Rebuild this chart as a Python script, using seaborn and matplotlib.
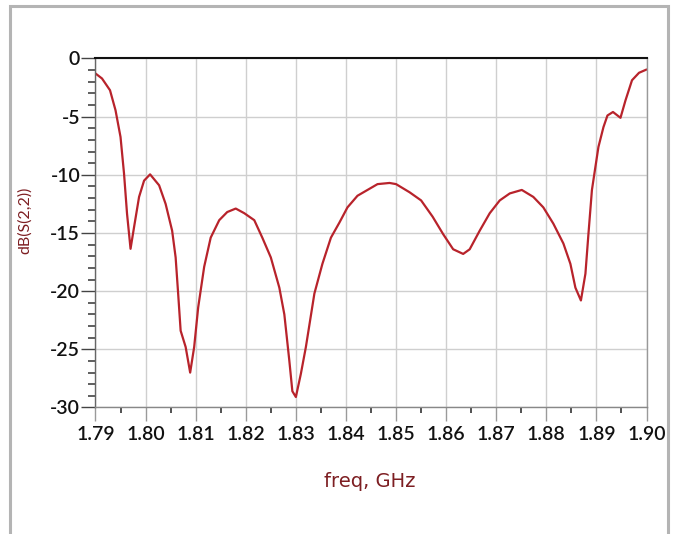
import matplotlib
matplotlib.use("Agg")
import matplotlib.pyplot as plt
from matplotlib.patches import Rectangle
from matplotlib.ticker import MultipleLocator, FormatStrFormatter
import seaborn as sns
import pandas as pd

freq_ghz = [1.7900, 1.7913, 1.7929, 1.7940, 1.7950, 1.7957, 1.7963, 1.7970, 1.7977, 1.7987,
            1.7997, 1.8009, 1.8027, 1.8040, 1.8053, 1.8060, 1.8065, 1.8070, 1.8080, 1.8089,
            1.8097, 1.8105, 1.8117, 1.8130, 1.8147, 1.8163, 1.8180, 1.8197, 1.8217, 1.8233,
            1.8250, 1.8267, 1.8277, 1.8287, 1.8293, 1.8300, 1.8310, 1.8320, 1.8337, 1.8353,
            1.8370, 1.8387, 1.8403, 1.8423, 1.8443, 1.8463, 1.8487, 1.8500, 1.8527, 1.8550,
            1.8573, 1.8594, 1.8614, 1.8634, 1.8647, 1.8667, 1.8687, 1.8707, 1.8727, 1.8751,
            1.8774, 1.8794, 1.8814, 1.8834, 1.8848, 1.8858, 1.8869, 1.8878, 1.8884, 1.8891,
            1.8898, 1.8904, 1.8914, 1.8922, 1.8933, 1.8948, 1.8958, 1.8971, 1.8985, 1.9000]
s22_db = [-1.29, -1.72, -2.73, -4.45, -6.75, -9.9, -13.35, -16.36, -14.5, -11.9,
          -10.5, -9.96, -10.9, -12.5, -14.8, -17.1, -20.2, -23.4, -24.8, -27.0,
          -24.8, -21.4, -17.9, -15.4, -13.9, -13.2, -12.9, -13.3, -13.9, -15.4,
          -17.1, -19.7, -22.0, -26.0, -28.6, -29.1, -27.1, -24.8, -20.2, -17.65,
          -15.4, -14.1, -12.8, -11.8, -11.3, -10.8, -10.7, -10.8, -11.5, -12.2,
          -13.6, -15.1, -16.4, -16.8, -16.4, -14.8, -13.3, -12.2, -11.6, -11.3,
          -11.9, -12.8, -14.2, -15.9, -17.65, -19.7, -20.8, -18.5, -15.1, -11.3,
          -9.3, -7.6, -5.9, -4.9, -4.6, -5.1, -3.6, -1.87, -1.23, -0.95]
x_ticks = [1.79, 1.80, 1.81, 1.82, 1.83, 1.84, 1.85, 1.86, 1.87, 1.88, 1.89, 1.90]
y_ticks = [0, -5, -10, -15, -20, -25, -30]
x_label = "freq, GHz"
y_label = "dB(S(2,2))"

sns.set_theme(style="white")
plt.rcParams["font.family"] = ["DejaVu Sans"]
plt.rcParams["axes.unicode_minus"] = False

fig = plt.figure(figsize=(6.82, 5.34), dpi=100)
ax = fig.add_axes([0.140, 0.2369, 0.808, 0.6536])

# outer gray frame
fig.patches.append(Rectangle((10 / 682, -0.05), (668 - 10) / 682, (534 - 6) / 534 + 0.05,
                             transform=fig.transFigure, fill=False,
                             edgecolor="#b4b4b4", linewidth=2.2, zorder=0))

df = pd.DataFrame({"freq": freq_ghz, "db": s22_db})
sns.lineplot(data=df, x="freq", y="db", ax=ax, color="#b8232b", linewidth=1.6,
             estimator=None, sort=False)

ax.set_xlim(x_ticks[0], x_ticks[-1])
ax.set_ylim(y_ticks[-1], y_ticks[0])
ax.set_xticks(x_ticks)
ax.set_yticks(y_ticks)
ax.xaxis.set_major_formatter(FormatStrFormatter("%.2f"))
ax.xaxis.set_minor_locator(MultipleLocator(0.005))
ax.yaxis.set_minor_locator(MultipleLocator(1))

ax.grid(True, which="major", color="#cfcfcf", linewidth=1.0)
ax.set_axisbelow(True)

ax.tick_params(axis="x", which="major", direction="out", length=10, width=1.0,
               color="#9a9a9a", labelsize=14, pad=3, labelcolor="#111111", bottom=True)
ax.tick_params(axis="x", which="minor", direction="out", length=4, width=1.2,
               color="#333333", bottom=True)
ax.tick_params(axis="y", which="major", direction="out", length=10, width=1.0,
               color="#444444", labelsize=14, pad=1, labelcolor="#111111", left=True)
ax.tick_params(axis="y", which="minor", direction="out", length=5, width=1.2,
               color="#444444", left=True)
for lab in ax.get_xticklabels() + ax.get_yticklabels():
    lab.set_family(["Lato", "DejaVu Sans"])
    lab.set_fontweight("semibold")

ax.spines["top"].set_color("#111111")
ax.spines["top"].set_linewidth(1.5)
ax.spines["left"].set_color("#666666")
ax.spines["left"].set_linewidth(1.0)
ax.spines["bottom"].set_color("#888888")
ax.spines["bottom"].set_linewidth(1.0)
ax.spines["right"].set_color("#999999")
ax.spines["right"].set_linewidth(1.0)

ax.set_xlabel(x_label, fontsize=14, color="#7d1e22")
ax.xaxis.set_label_coords(0.497, -0.186)
ax.set_ylabel(y_label, fontsize=11.5, color="#7d1e22", family=["Lato", "DejaVu Sans"])
ax.yaxis.set_label_coords(-0.115, 0.537)

fig.savefig("out.png", dpi=100, facecolor="white")
